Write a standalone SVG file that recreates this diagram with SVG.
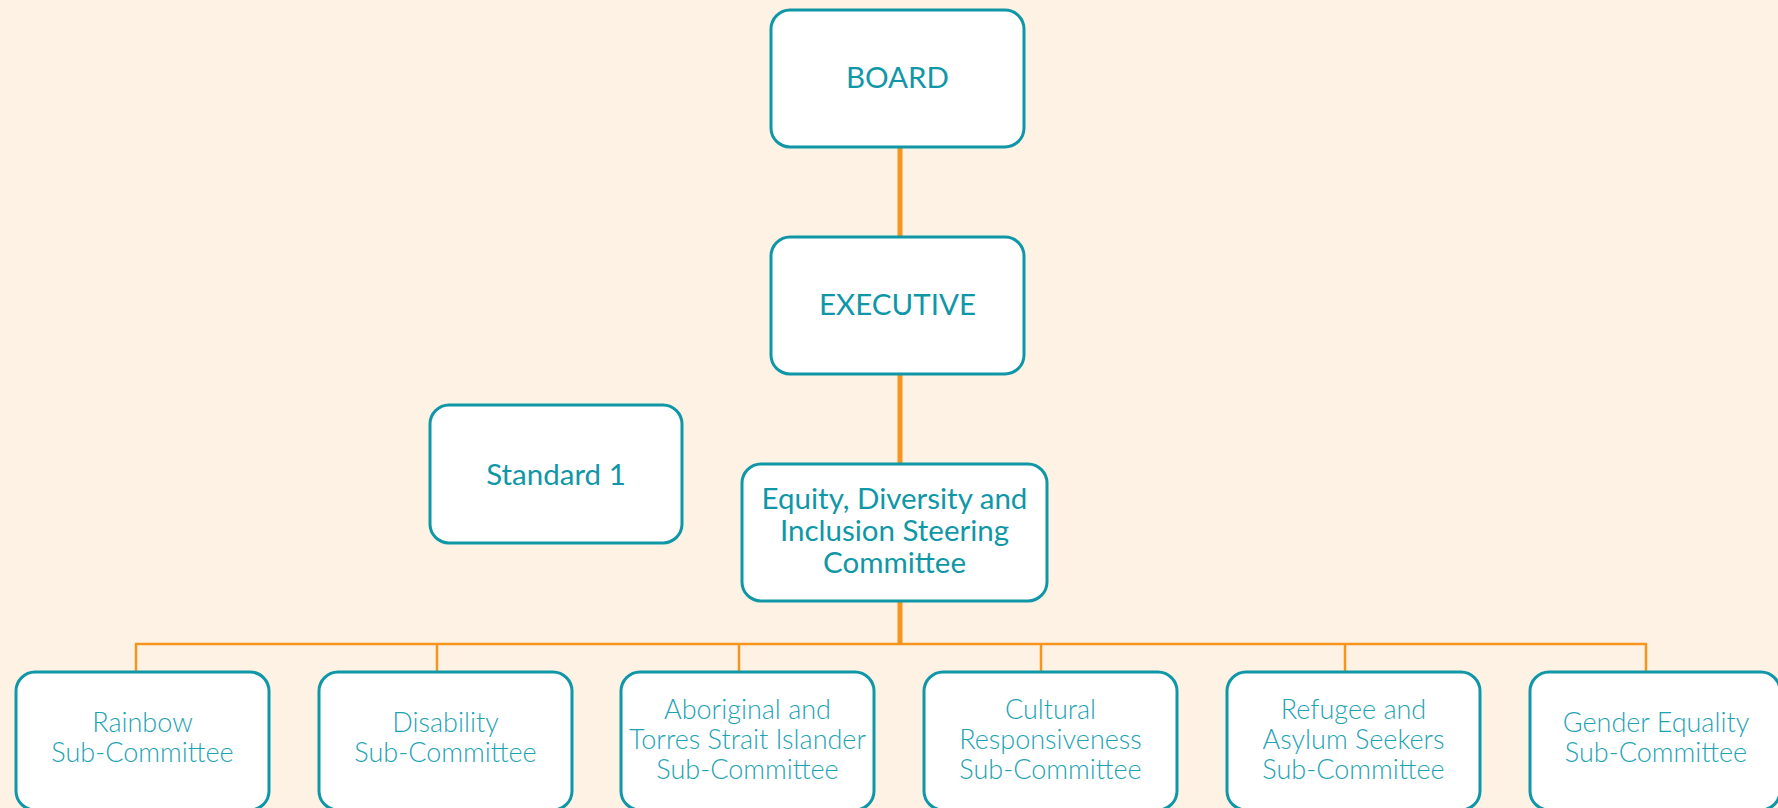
<svg xmlns="http://www.w3.org/2000/svg" width="1778" height="808" viewBox="0 0 1778 808">
  <style>
    .box { fill: #ffffff; stroke: #0f97a8; stroke-width: 3; }
    .main { font-family: Lato, "Liberation Sans", sans-serif; font-size: 29.5px; fill: #0f97a8; text-anchor: middle; }
    .sub { font-family: Lato, "Liberation Sans", sans-serif; font-weight: 300; font-size: 27px; fill: #1ea3b4; text-anchor: middle; }
    .thick { stroke: #f7941d; stroke-width: 5; fill: none; }
    .thin { stroke: #f7941d; stroke-width: 2.5; fill: none; }
  </style>
  <rect width="1778" height="808" fill="#fef2e4"/>

  <g id="connectors">
    <line class="thick" x1="900" y1="147" x2="900" y2="237"/>
    <line class="thick" x1="900" y1="374" x2="900" y2="464"/>
    <line class="thick" x1="900" y1="601" x2="900" y2="645"/>
    <line class="thin" x1="135" y1="644" x2="1647" y2="644"/>
    <line class="thin" x1="136" y1="644" x2="136" y2="672"/>
    <line class="thin" x1="437" y1="644" x2="437" y2="672"/>
    <line class="thin" x1="739" y1="644" x2="739" y2="672"/>
    <line class="thin" x1="1041" y1="644" x2="1041" y2="672"/>
    <line class="thin" x1="1345" y1="644" x2="1345" y2="672"/>
    <line class="thin" x1="1646" y1="644" x2="1646" y2="672"/>
  </g>

  <g id="board">
    <rect class="box" x="771" y="10" width="253" height="137" rx="19"/>
    <text class="main" x="897.5" y="88">BOARD</text>
  </g>

  <g id="executive">
    <rect class="box" x="771" y="237" width="253" height="137" rx="19"/>
    <text class="main" x="897.5" y="315">EXECUTIVE</text>
  </g>

  <g id="standard-1">
    <rect class="box" x="430" y="405" width="252" height="138" rx="19"/>
    <text class="main" x="556" y="485">Standard 1</text>
  </g>

  <g id="steering-committee">
    <rect class="box" x="742" y="464" width="305" height="137" rx="19"/>
    <text class="main" x="894.5" y="509">Equity, Diversity and</text>
    <text class="main" x="894.5" y="541">Inclusion Steering</text>
    <text class="main" x="894.5" y="573">Committee</text>
  </g>

  <g id="rainbow">
    <rect class="box" x="16" y="672" width="253" height="138" rx="19"/>
    <text class="sub" x="142.5" y="732">Rainbow</text>
    <text class="sub" x="142.5" y="762">Sub-Committee</text>
  </g>

  <g id="disability">
    <rect class="box" x="319" y="672" width="253" height="138" rx="19"/>
    <text class="sub" x="445.5" y="732">Disability</text>
    <text class="sub" x="445.5" y="762">Sub-Committee</text>
  </g>

  <g id="aboriginal-torres-strait">
    <rect class="box" x="621" y="672" width="253" height="138" rx="19"/>
    <text class="sub" x="747.5" y="719">Aboriginal and</text>
    <text class="sub" x="747.5" y="749">Torres Strait Islander</text>
    <text class="sub" x="747.5" y="779">Sub-Committee</text>
  </g>

  <g id="cultural-responsiveness">
    <rect class="box" x="924" y="672" width="253" height="138" rx="19"/>
    <text class="sub" x="1050.5" y="719">Cultural</text>
    <text class="sub" x="1050.5" y="749">Responsiveness</text>
    <text class="sub" x="1050.5" y="779">Sub-Committee</text>
  </g>

  <g id="refugee-asylum">
    <rect class="box" x="1227" y="672" width="253" height="138" rx="19"/>
    <text class="sub" x="1353.5" y="719">Refugee and</text>
    <text class="sub" x="1353.5" y="749">Asylum Seekers</text>
    <text class="sub" x="1353.5" y="779">Sub-Committee</text>
  </g>

  <g id="gender-equality">
    <rect class="box" x="1530" y="672" width="250" height="138" rx="19"/>
    <text class="sub" x="1656" y="732">Gender Equality</text>
    <text class="sub" x="1656" y="762">Sub-Committee</text>
  </g>
</svg>
